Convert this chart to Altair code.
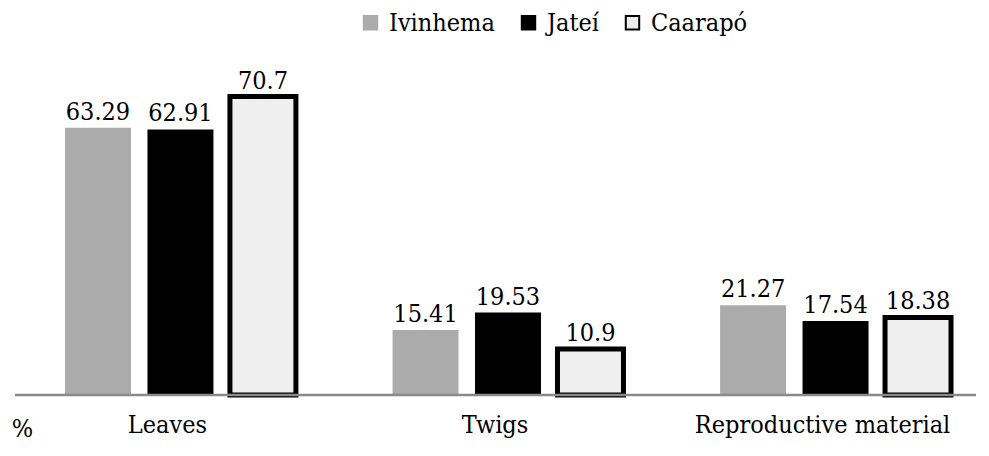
import altair as alt
import pandas as pd

categories = ["Leaves", "Twigs", "Reproductive material"]
series = ["Ivinhema", "Jateí", "Caarapó"]
ivinhema = [63.29, 15.41, 21.27]
jatei = [62.91, 19.53, 17.54]
caarapo = [70.7, 10.9, 18.38]

rows = []
for s, vals in zip(series, [ivinhema, jatei, caarapo]):
    for c, v in zip(categories, vals):
        rows.append({"category": c, "series": s, "value": v, "label": str(v)})
df = pd.DataFrame(rows)

FONT = "DejaVu Serif Condensed, DejaVu Serif"
FS = 25
W, H = 936, 325

x_enc = alt.X("category:N", sort=categories,
              scale=alt.Scale(paddingInner=0.295, paddingOuter=0.0763),
              axis=alt.Axis(title=None, domain=False, ticks=False, labelAngle=0,
                            labelFont=FONT, labelFontSize=FS, labelColor="black",
                            labelPadding=17, labelBaseline="top", labelLimit=400,
                            labelOffset=-13))
xo_enc = alt.XOffset("series:N", sort=series,
                     scale=alt.Scale(paddingInner=0.2, paddingOuter=0))
y_scale = alt.Scale(domain=[0, 77], nice=False)
y_axis = alt.Axis(title="%", domain=False, ticks=False, labels=False, grid=False,
                  titleAngle=0, titleX=-18, titleY=366, titleFont=FONT,
                  titleFontSize=FS, titleFontWeight="normal", titleColor="black",
                  titleBaseline="alphabetic", titleAlign="center")
y_enc = alt.Y("value:Q", scale=y_scale, axis=y_axis)

bars = alt.Chart(df).mark_bar(strokeJoin="miter").encode(
    x=x_enc, xOffset=xo_enc, y=y_enc,
    fill=alt.Fill("series:N", sort=series,
                  scale=alt.Scale(domain=series, range=["#ababab", "#000000", "#efefef"]),
                  legend=alt.Legend(title=None, orient="none", legendX=318, legendY=-60,
                                    direction="horizontal", symbolType="square",
                                    symbolSize=180, symbolStrokeWidth=2,
                                    labelFont=FONT, labelFontSize=FS, labelColor="black",
                                    labelOffset=6, columnPadding=21, labelLimit=300)),
    stroke=alt.Stroke("series:N", sort=series,
                      scale=alt.Scale(domain=series, range=["#ababab", "#000000", "#000000"])),
    strokeWidth=alt.condition(alt.datum.series == "Caarapó", alt.value(5), alt.value(0)),
)

labels = alt.Chart(df).mark_text(dy=-8, baseline="alphabetic", font=FONT,
                                 fontSize=FS, color="black").encode(
    x=x_enc, xOffset=xo_enc, y=y_enc, text="label:N")

baseline = alt.Chart(pd.DataFrame({"value": [0]})).mark_rule(color="#8a8a8a", strokeWidth=2.5).encode(
    y=y_enc, x=alt.value(-25), x2=alt.value(W))

chart = alt.layer(bars, labels, baseline).properties(
    width=W, height=H,
    autosize=alt.AutoSizeParams(type="none"),
    padding={"left": 32, "top": 62, "right": 5, "bottom": 50},
).configure(background="white").configure_view(stroke=None)

chart.save("out.html", embed_options={"renderer": "svg", "actions": False})
